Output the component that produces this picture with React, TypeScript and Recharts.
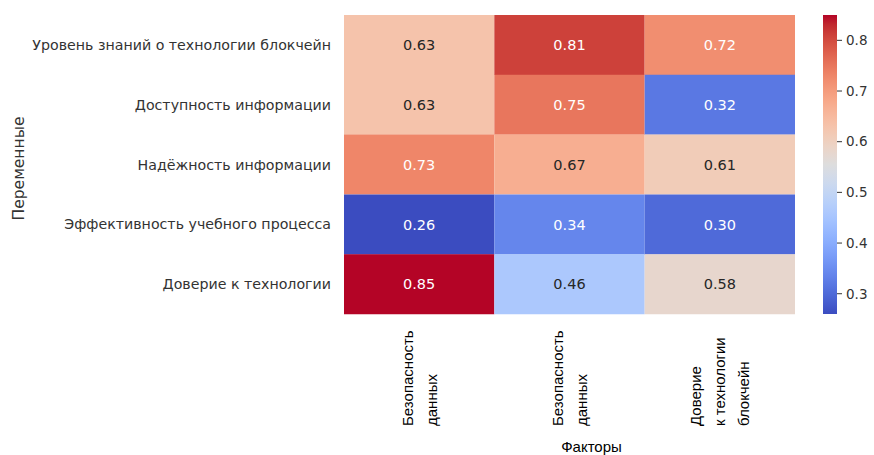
import React from "react";
import { Bar, BarChart, Cell, LabelList, XAxis, YAxis } from "recharts";

document.body.style.margin = "0";

const rowLabels = [
  "Уровень знаний о технологии блокчейн",
  "Доступность информации",
  "Надёжность информации",
  "Эффективность учебного процесса",
  "Доверие к технологии",
];

const colLabels = ["Безопасность\nданных", "Безопасность\nданных", "Доверие\nк технологии\nблокчейн"];

// one array per column of the heatmap, top row first
const safety1 = [0.63, 0.63, 0.73, 0.26, 0.85];
const safety2 = [0.81, 0.75, 0.67, 0.34, 0.46];
const trust = [0.72, 0.32, 0.61, 0.3, 0.58];

const colorbarTicks = [0.3, 0.4, 0.5, 0.6, 0.7, 0.8];
const vmin = 0.26;
const vmax = 0.85;

// matplotlib "coolwarm" sampled at 33 stops
const COOLWARM = [
  [59, 76, 192], [68, 90, 204], [77, 104, 215], [87, 117, 225], [98, 130, 234],
  [108, 142, 241], [119, 154, 247], [130, 165, 251], [141, 176, 254], [152, 185, 255],
  [163, 194, 255], [174, 201, 253], [184, 208, 249], [194, 213, 244], [204, 217, 238],
  [213, 219, 230], [221, 221, 221], [229, 216, 209], [236, 211, 197], [241, 204, 184],
  [245, 196, 172], [247, 187, 160], [247, 177, 148], [247, 166, 135], [244, 154, 123],
  [241, 141, 111], [236, 127, 99], [229, 112, 88], [222, 96, 77], [213, 80, 66],
  [203, 62, 56], [192, 40, 47], [180, 4, 38],
];

function rgbAt(t: number) {
  const c = Math.max(0, Math.min(1, t)) * (COOLWARM.length - 1);
  const i = Math.min(Math.floor(c), COOLWARM.length - 2);
  const f = c - i;
  return COOLWARM[i].map((a, k) => Math.round(a + (COOLWARM[i + 1][k] - a) * f));
}

const toCss = (rgb: number[]) => `rgb(${rgb[0]},${rgb[1]},${rgb[2]})`;
const colorFor = (v: number) => toCss(rgbAt((v - vmin) / (vmax - vmin)));

function textColorFor(v: number) {
  const lin = rgbAt((v - vmin) / (vmax - vmin)).map((c) => {
    const s = c / 255;
    return s <= 0.03928 ? s / 12.92 : Math.pow((s + 0.055) / 1.055, 2.4);
  });
  const lum = 0.2126 * lin[0] + 0.7152 * lin[1] + 0.0722 * lin[2];
  return lum > 0.408 ? "#262626" : "#ffffff";
}

const columns = [safety1, safety2, trust];
const data = rowLabels.map((label, i) => ({
  label,
  v0: safety1[i],
  v1: safety2[i],
  v2: trust[i],
  w0: 1,
  w1: 1,
  w2: 1,
}));

const FONT = "DejaVu Sans, sans-serif";
const ARIAL = "Liberation Sans, Arial, sans-serif";

function ValueLabel(props: any) {
  const { x, y, width, height, value } = props;
  return (
    <text
      x={x + width / 2}
      y={y + height / 2}
      dy="0.36em"
      textAnchor="middle"
      fontFamily={FONT}
      fontSize={14.5}
      fill={textColorFor(value)}
    >
      {Number(value).toFixed(2)}
    </text>
  );
}

function ColTick(props: any) {
  const { x, index } = props;
  const lines = colLabels[index ?? 0].split("\n");
  const lh = 24;
  return (
    <g transform={`translate(${x},426) rotate(-90)`}>
      {lines.map((ln, i) => (
        <text
          key={i}
          x={0}
          y={(i - (lines.length - 1) / 2) * lh}
          dy="0.36em"
          textAnchor="start"
          fontFamily={ARIAL}
          fontSize={15}
          fill="#000"
        >
          {ln}
        </text>
      ))}
    </g>
  );
}

function HeatmapChart() {
  return (
    <BarChart
      width={874}
      height={455}
      data={data}
      layout="vertical"
      margin={{ top: 15, right: 79, bottom: 0, left: 0 }}
      barCategoryGap={0}
    >
      <XAxis
        type="number"
        domain={[0, 3]}
        ticks={[0.5, 1.5, 2.5]}
        height={141}
        axisLine={false}
        tickLine={false}
        tick={<ColTick />}
        interval={0}
        label={(p: any) => {
          const vb = p.viewBox;
          return (
            <text x={vb.x + vb.width / 2 + 22} y={452} textAnchor="middle" fontFamily={ARIAL} fontSize={15} fill="#000">
              Факторы
            </text>
          );
        }}
      />
      <YAxis
        type="category"
        dataKey="label"
        width={344}
        axisLine={false}
        tickLine={false}
        tickSize={6}
        tickMargin={7}
        interval={0}
        tick={{ fontFamily: FONT, fontSize: 14.2, fill: "#333" }}
        label={(p: any) => {
          const vb = p.viewBox;
          return (
            <text
              transform={`translate(18,${vb.y + vb.height / 2 + 4}) rotate(-90)`}
              dy="0.36em"
              textAnchor="middle"
              fontFamily={FONT}
              fontSize={15.5}
              fill="#333"
            >
              Переменные
            </text>
          );
        }}
      />
      {columns.map((col, c) => (
        <Bar key={c} dataKey={`w${c}`} stackId="s" isAnimationActive={false}>
          {col.map((v, i) => (
            <Cell key={i} fill={colorFor(v)} />
          ))}
          <LabelList dataKey={`v${c}`} content={<ValueLabel />} />
        </Bar>
      ))}
    </BarChart>
  );
}

const barData = [{ name: "cb", range: [vmin, vmax] }];

function Colorbar() {
  const n = COOLWARM.length;
  return (
    <BarChart
      width={70}
      height={455}
      data={barData}
      margin={{ top: 15, right: 0, bottom: 141, left: 0 }}
      barCategoryGap={0}
    >
      <defs>
        <linearGradient id="cw" x1="0" y1="0" x2="0" y2="1">
          {COOLWARM.map((_, i) => (
            <stop key={i} offset={`${(i / (n - 1)) * 100}%`} stopColor={toCss(COOLWARM[n - 1 - i])} />
          ))}
        </linearGradient>
      </defs>
      <XAxis dataKey="name" hide />
      <YAxis
        orientation="right"
        type="number"
        domain={[vmin, vmax]}
        ticks={colorbarTicks}
        width={56}
        axisLine={false}
        tickSize={5}
        tickMargin={4}
        tickLine={{ stroke: "#333" }}
        tickFormatter={(v: number) => v.toFixed(1)}
        tick={{ fontFamily: FONT, fontSize: 13.5, fill: "#333" }}
      />
      <Bar dataKey="range" fill="url(#cw)" isAnimationActive={false} />
    </BarChart>
  );
}

export default function App() {
  return (
    <div style={{ position: "relative", width: 874, height: 455, background: "#fff" }}>
      <HeatmapChart />
      <div style={{ position: "absolute", left: 823, top: 0 }}>
        <Colorbar />
      </div>
    </div>
  );
}
